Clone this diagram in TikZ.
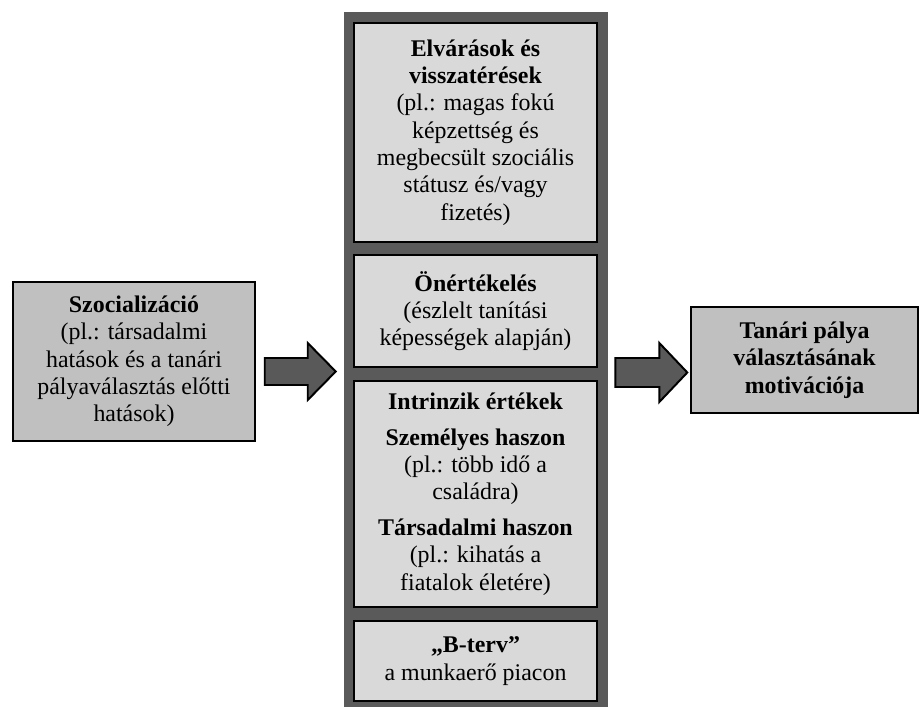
\documentclass[tikz,border=0pt]{standalone}
\usepackage{fontspec}
\setmainfont{Liberation Serif}
\usetikzlibrary{calc}
\definecolor{colgray}{HTML}{5A5A5A}
\definecolor{boxgray}{HTML}{D9D9D9}
\definecolor{sidegray}{HTML}{C0C0C0}
\definecolor{arrgray}{HTML}{595959}
\tikzset{
  column/.style={fill=colgray, draw=none, inner sep=0pt},
  inbox/.style={fill=boxgray, draw=black, line width=1pt, inner sep=0pt, align=center},
  sidebox/.style={fill=sidegray, draw=black, line width=1pt, inner sep=0pt, align=center},
  blockarrow/.style={fill=arrgray, draw=black, line width=1.4pt, line join=miter}
}
\begin{document}
\begin{tikzpicture}[x=0.025cm, y=-0.025cm,
  every node/.append style={font=\fontsize{17}{19.4}\selectfont}]
\useasboundingbox (0,0) rectangle (920,707);

% middle column
\node[column, minimum width=6.6cm, minimum height=17.375cm] (col) at (476,359.5) {};

\node[inbox, minimum width=6.075cm, minimum height=5.475cm] (elv) at (475.5,132.5)
  {\textbf{Elvárások és}\\ \textbf{visszatérések}\\ (pl.: magas fokú\\ képzettség és\\
   megbecsült szociális\\ státusz és/vagy\\ fizetés)};
\node[inbox, minimum width=6.075cm, minimum height=2.8cm] (oner) at (475.5,311)
  {\textbf{Önértékelés}\\ (észlelt tanítási\\ képességek alapján)};
\node[inbox, minimum width=6.075cm, minimum height=5.65cm] (intr) at (475.5,494)
  {\textbf{Intrinzik értékek}\\[6pt] \textbf{Személyes haszon}\\ (pl.: több idő a\\ családra)\\[6pt]
   \textbf{Társadalmi haszon}\\ (pl.: kihatás a\\ fiatalok életére)};
\node[inbox, minimum width=6.075cm, minimum height=2cm] (bterv) at (475.5,661)
  {\textbf{„B-terv”}\\ a munkaerő piacon};

% side boxes
\node[sidebox, minimum width=6.05cm, minimum height=3.975cm] (szoc) at (134,361.5)
  {\textbf{Szocializáció}\\ (pl.: társadalmi\\ hatások és a tanári\\ pályaválasztás előtti\\ hatások)};
\node[sidebox, minimum width=5.675cm, minimum height=2.65cm] (mot) at (804.5,360)
  {\textbf{Tanári pálya}\\ \textbf{választásának}\\ \textbf{motivációja}};

% block arrows
\coordinate (la) at ($(szoc.east)+(9,10.5)$);
\coordinate (ra) at ($(col.east)+(7,12.5)$);
\draw[blockarrow] ($(la)+(0,-14)$) -- ++(43,0) -- ++(0,-15) -- ++(28,28.5) -- ++(-28,28.5)
  -- ++(0,-15) -- ++(-43,0) -- cycle;
\draw[blockarrow] ($(ra)+(0,-14)$) -- ++(44,0) -- ++(0,-15) -- ++(28,29.5) -- ++(-28,29.5)
  -- ++(0,-15) -- ++(-44,0) -- cycle;
\end{tikzpicture}
\end{document}
